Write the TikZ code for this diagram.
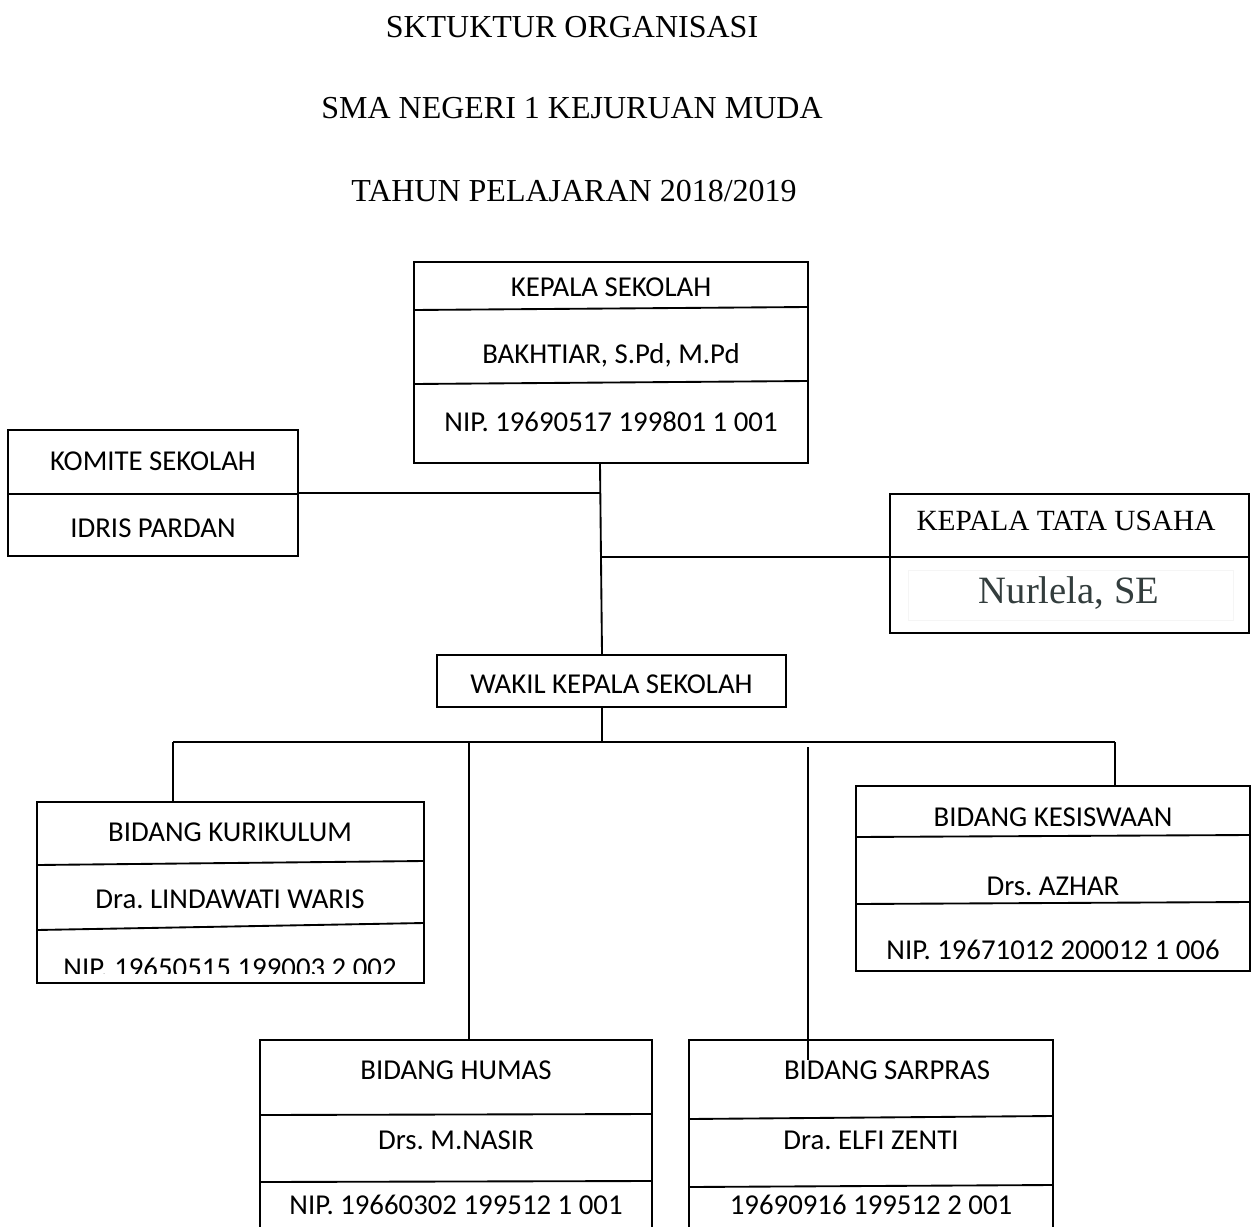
\documentclass[tikz,border=0pt]{standalone}
\usepackage{fontspec}
\setmainfont{Liberation Serif}
\newfontfamily\calfont{Carlito}
\definecolor{slate}{HTML}{333D3D}
\frenchspacing
\begin{document}
\begin{tikzpicture}[x=0.75pt,y=-0.75pt,
  box/.style={draw, line width=1.4pt, inner sep=0pt},
  lbl/.style={font=\calfont\fontsize{21.6}{24}\selectfont, inner sep=0pt},
  ttl/.style={font=\fontsize{24}{28}\selectfont, inner sep=0pt},
  conn/.style={line width=1.4pt},
  sep/.style={line width=1.4pt}]
\useasboundingbox (0,0) rectangle (1256,1227);
\clip (0,0) rectangle (1256,1227);
\fill[white] (0,0) rectangle (1256,1227);

% titles
\node[ttl] (t1) at (572,27) {SKTUKTUR ORGANISASI};
\node[ttl] (t2) at (572,108) {SMA NEGERI 1 KEJURUAN MUDA};
\node[ttl] (t3) at (574,191) {TAHUN PELAJARAN 2018/2019};

% boxes
\node[box, minimum width=295.5pt, minimum height=150.75pt] (ks) at (611,362.5) {};
\node[box, minimum width=217.5pt, minimum height=94.5pt] (kom) at (153,493) {};
\node[box, minimum width=269.25pt, minimum height=104.25pt] (ktu) at (1069.5,563.5) {};
\node[box, minimum width=261.75pt, minimum height=39pt] (wk) at (611.5,681) {};
\node[box, minimum width=290.25pt, minimum height=135.75pt] (kur) at (230.5,892.5) {};
\node[box, minimum width=295.5pt, minimum height=138.75pt] (kes) at (1053,878.5) {};
\node[box, minimum width=294pt, minimum height=157.5pt] (hum) at (456,1145) {};
\node[box, minimum width=273pt, minimum height=157.5pt] (sar) at (871,1145) {};

% dividers
\draw[sep] (414,310) -- (808,307);
\draw[sep] (414,384) -- (808,381);
\draw[sep] (8,494) -- (298,494);
\draw[sep] (890,557) -- (1249,557);
\draw[black!4, line width=0.5pt] (908,570) rectangle (1233,620);
\draw[sep] (37,865) -- (424,861);
\draw[sep] (37,930) -- (424,923);
\draw[sep] (856,837) -- (1250,835);
\draw[sep] (856,904) -- (1250,902);
\draw[sep] (260,1115) -- (652,1114);
\draw[sep] (260,1182) -- (652,1181);
\draw[sep] (689,1119) -- (1053,1116);
\draw[sep] (689,1187) -- (1053,1185);

% texts
\node[lbl] (ks1) at (611,287) {KEPALA SEKOLAH};
\node[lbl] (ks2) at (611,355) {BAKHTIAR, S.Pd, M.Pd};
\node[lbl] (ks3) at (611,422) {NIP. 19690517 199801 1 001};
\node[lbl] (kom1) at (153,461) {KOMITE SEKOLAH};
\node[lbl] (kom2) at (153,528) {IDRIS PARDAN};
\node[inner sep=0pt, font=\fontsize{22}{26}\selectfont] (ktu1) at (1066,521) {KEPALA TATA USAHA};
\node[inner sep=0pt, text=slate, font=\fontsize{29}{32}\selectfont] (ktu2) at (1069,593) {Nurlela, SE};
\node[lbl] (wk1) at (611.5,684) {WAKIL KEPALA SEKOLAH};
\node[lbl] (kur1) at (230,832) {BIDANG KURIKULUM};
\node[lbl] (kur2) at (230,899) {Dra. LINDAWATI WARIS};
\begin{scope}
\clip (38,930) rectangle (423,973);
\node[lbl] (kur3) at (230,968) {NIP. 19650515 199003 2 002};
\end{scope}
\node[lbl] (kes1) at (1053,817) {BIDANG KESISWAAN};
\node[lbl] (kes2) at (1053,886) {Drs. AZHAR};
\node[lbl] (kes3) at (1053,950) {NIP. 19671012 200012 1 006};
\node[lbl] (hum1) at (456,1070) {BIDANG HUMAS};
\node[lbl] (hum2) at (456,1140) {Drs. M.NASIR};
\node[lbl] (hum3) at (456,1205) {NIP. 19660302 199512 1 001};
\node[lbl] (sar1) at (887,1070) {BIDANG SARPRAS};
\node[lbl] (sar2) at (871,1140) {Dra. ELFI ZENTI};
\node[lbl] (sar3) at (871,1205) {19690916 199512 2 001};

% connectors
\coordinate (spine) at (600,0);
\coordinate (spine2) at (602,0);
\coordinate (busL) at (173,742);
\coordinate (busR) at (1115,742);
\coordinate (hx) at (469,742);
\coordinate (sx) at (808,747);
\draw[conn] (ks.south -| spine) -- (wk.north -| spine2);
\draw[conn] (kom.east) -- (kom.east -| spine);
\draw[conn] (ktu.west |- 0,557) -- (spine |- 0,557);
\draw[conn] (wk.south -| spine2) -- (busL -| spine2);
\draw[conn] (busL) -- (busR);
\draw[conn] (busL) -- (kur.north -| busL);
\draw[conn] (busR) -- (kes.north -| busR);
\draw[conn] (hx) -- (hum.north -| hx);
\draw[conn] (sx) -- (sx |- 0,1060);
\end{tikzpicture}
\end{document}
